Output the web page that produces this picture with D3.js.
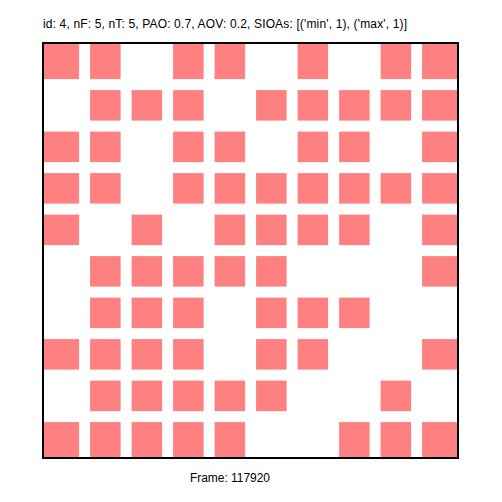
<!DOCTYPE html>
<html><head><meta charset="utf-8">
<script src="https://cdn.jsdelivr.net/npm/d3@7"></script>
<style>body{margin:0;background:#fff}svg{display:block}</style>
</head><body>
<script>
const titleText = "id: 4, nF: 5, nT: 5, PAO: 0.7, AOV: 0.2, SIOAs: [('min', 1), ('max', 1)]";
const footerText = "Frame: 117920";
const rows = [0,1,2,3,4,5,6,7,8,9];
const cols = [0,1,2,3,4,5,6,7,8,9];
const grid = [
  [1,1,0,1,1,0,1,0,1,1],
  [0,1,1,1,0,1,1,1,1,1],
  [1,1,0,1,1,0,1,1,0,1],
  [1,1,0,1,1,1,1,1,1,1],
  [1,0,1,0,1,1,1,1,0,1],
  [0,1,1,1,1,1,0,0,0,1],
  [0,1,1,1,0,1,1,1,0,0],
  [1,1,1,1,0,1,1,0,0,1],
  [0,1,1,1,1,1,0,0,1,0],
  [1,1,1,1,1,0,0,1,1,1]
];

const W = 502, H = 502;
const svg = d3.select("body").append("svg").attr("width", W).attr("height", H);
const x = d3.scaleLinear().domain([0, 10]).range([43, 458]);
const y = d3.scaleLinear().domain([0, 10]).range([43, 458]);
const a = 0.135, b = 0.87;
const cells = [];
rows.forEach(r => cols.forEach(c => { if (grid[r][c]) cells.push({r, c}); }));
const x0 = c => c === 0 ? x(0) : x(c + a);
const x1 = c => c === 9 ? x(10) : x(c + b);
const y0 = r => r === 0 ? y(0) : y(r + a);
const y1 = r => r === 9 ? y(10) : y(r + b);
svg.append("g").selectAll("rect").data(cells).join("rect")
  .attr("x", d => x0(d.c)).attr("y", d => y0(d.r))
  .attr("width", d => x1(d.c) - x0(d.c)).attr("height", d => y1(d.r) - y0(d.r))
  .attr("fill", "#ff8080");
svg.append("rect").attr("x", x(0)).attr("y", y(0))
  .attr("width", x(10) - x(0)).attr("height", y(10) - y(0))
  .attr("fill", "none").attr("stroke", "#000").attr("stroke-width", 2);
svg.append("text").attr("x", 43).attr("y", 28)
  .attr("font-family", "Liberation Sans, Arial, sans-serif").attr("font-size", 12)
  .attr("textLength", 364).attr("lengthAdjust", "spacing")
  .text(titleText);
svg.append("text").attr("x", 190).attr("y", 482)
  .attr("font-family", "Liberation Sans, Arial, sans-serif").attr("font-size", 12)
  .attr("textLength", 80).attr("lengthAdjust", "spacing")
  .text(footerText);
</script>
</body></html>
